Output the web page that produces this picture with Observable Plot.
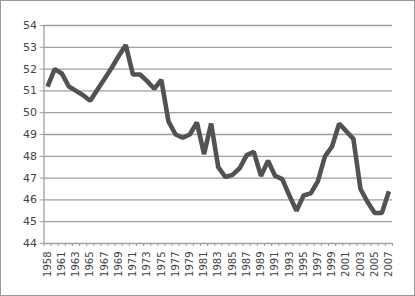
<!DOCTYPE html>
<html>
<head>
<meta charset="utf-8">
<script src="https://cdn.jsdelivr.net/npm/d3@7"></script>
<script src="https://cdn.jsdelivr.net/npm/@observablehq/plot@0.6"></script>
<style>
  html, body { margin: 0; padding: 0; background: #fff; }
  svg { display: block; outline: 1px solid #9a9a9a; outline-offset: -1px; }
</style>
</head>
<body>
<div id="chart"></div>
<script>
// Category labels (one per data point; one year is missing between 1958 and 1961)
const years = ["1958","1960","1961","1962","1963","1964","1965","1966","1967","1968",
  "1969","1970","1971","1972","1973","1974","1975","1976","1977","1978",
  "1979","1980","1981","1982","1983","1984","1985","1986","1987","1988",
  "1989","1990","1991","1992","1993","1994","1995","1996","1997","1998",
  "1999","2000","2001","2002","2003","2004","2005","2006","2007"];
const values = [51.2, 52.0, 51.8, 51.2, 51.0, 50.8, 50.55, 51.05, 51.55, 52.05,
  52.6, 53.1, 51.75, 51.75, 51.45, 51.1, 51.5, 49.6, 49.0, 48.85,
  49.0, 49.55, 48.1, 49.5, 47.5, 47.05, 47.15, 47.45, 48.05, 48.2,
  47.1, 47.8, 47.1, 46.95, 46.2, 45.5, 46.2, 46.3, 46.85, 48.0,
  48.45, 49.5, 49.15, 48.8, 46.5, 45.9, 45.4, 45.4, 46.4];
const yTicks = [44, 45, 46, 47, 48, 49, 50, 51, 52, 53, 54];
const labelEvery = 2;

const data = years.map((y, i) => ({i, year: y, value: values[i]}));
const labelIdx = d3.range(0, years.length, labelEvery);
const boundaries = d3.range(years.length + 1).map(k => k - 0.5);

const chart = Plot.plot({
  width: 415,
  height: 296,
  marginLeft: 43.5,
  marginRight: 23,
  marginTop: 25,
  marginBottom: 53,
  style: {fontFamily: "DejaVu Sans", color: "#444", background: "#fff"},
  x: {type: "linear", domain: [-0.5, years.length - 0.5]},
  y: {domain: [44, 54]},
  marks: [
    Plot.gridY(yTicks, {stroke: "#a0a0a0", strokeOpacity: 1, strokeWidth: 1.3}),
    Plot.ruleX([-0.5], {stroke: "#a0a0a0", strokeWidth: 1.3}),
    Plot.axisY(yTicks, {tickSize: 4, tickPadding: 3, stroke: "#a0a0a0", fontSize: 11, fill: "#444", label: null}),
    Plot.axisX(boundaries, {tickSize: 3, tickFormat: () => "", stroke: "#a0a0a0", label: null}),
    Plot.axisX(labelIdx, {tickSize: 0, tickPadding: 8, tickRotate: -90, tickFormat: i => years[i], fontSize: 10, fill: "#444", label: null}),
    Plot.line(data, {x: "i", y: "value", stroke: "#525252", strokeWidth: 4.6, strokeLinejoin: "miter", strokeLinecap: "butt"})
  ]
});
document.getElementById("chart").append(chart);
</script>
</body>
</html>
